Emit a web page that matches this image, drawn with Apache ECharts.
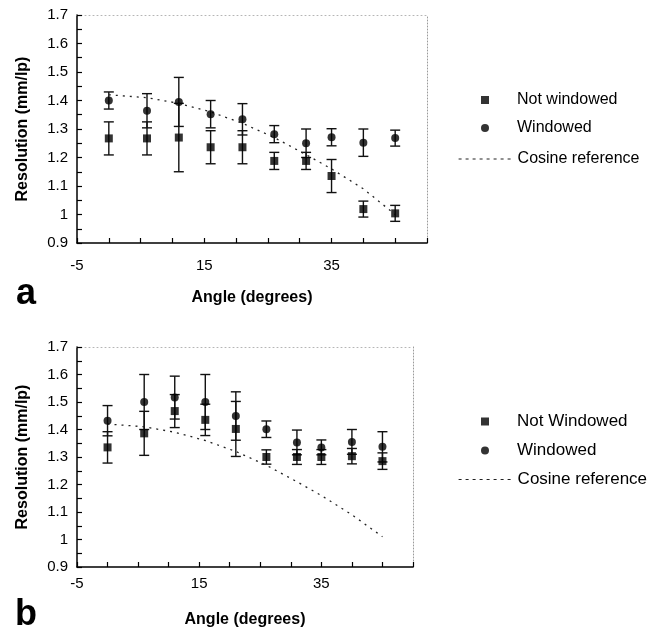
<!DOCTYPE html>
<html>
<head>
<meta charset="utf-8">
<script src="https://cdn.jsdelivr.net/npm/echarts@6/dist/echarts.min.js"></script>
<style>
  html, body { margin: 0; padding: 0; background: #fff; }
  #chart { width: 670px; height: 633px; }
</style>
</head>
<body>
<div id="chart"></div>
<script>
// angles (degrees) shared by both panels
var angles = [0, 6, 11, 16, 21, 26, 31, 35, 40, 45];
var xTickLabels = ['-5', '15', '35'];

// panel a
var notWinA    = [1.267, 1.267, 1.27, 1.236, 1.236, 1.188, 1.188, 1.135, 1.019, 1.004];
var notWinAErr = [0.058, 0.058, 0.12, 0.058, 0.058, 0.03, 0.03, 0.058, 0.028, 0.028];
var winA       = [1.40, 1.364, 1.395, 1.352, 1.334, 1.282, 1.25, 1.271, 1.252, 1.268];
var winAErr    = [0.03, 0.06, 0.086, 0.048, 0.055, 0.03, 0.05, 0.03, 0.048, 0.028];
var cosA       = [1.42, 1.41, 1.39, 1.36, 1.32, 1.27, 1.21, 1.16, 1.09, 1.00];

// panel b
var notWinB    = [1.335, 1.386, 1.467, 1.435, 1.402, 1.30, 1.30, 1.30, 1.303, 1.285];
var notWinBErr = [0.057, 0.08, 0.06, 0.057, 0.1, 0.026, 0.027, 0.027, 0.028, 0.03];
var winB       = [1.432, 1.50, 1.516, 1.50, 1.449, 1.401, 1.353, 1.335, 1.355, 1.337];
var winBErr    = [0.055, 0.1, 0.078, 0.1, 0.088, 0.03, 0.045, 0.027, 0.045, 0.055];
var cosB       = [1.42, 1.41, 1.39, 1.36, 1.32, 1.27, 1.21, 1.16, 1.09, 1.01];

var font = 'Liberation Sans, Arial, sans-serif';
var chart = echarts.init(document.getElementById('chart'));

function pairs(vals) {
  return angles.map(function (a, i) { return [a, vals[i]]; });
}
function triples(vals, errs) {
  return angles.map(function (a, i) { return [a, vals[i], errs[i]]; });
}

function errorBars(gridIdx, vals, errs) {
  return {
    type: 'custom',
    xAxisIndex: gridIdx * 2,
    yAxisIndex: gridIdx * 2,
    silent: true,
    z: 2,
    encode: { x: 0, y: 1 },
    data: triples(vals, errs),
    renderItem: function (params, api) {
      var x = api.value(0), y = api.value(1), e = api.value(2);
      var top = api.coord([x, y + e]);
      var bot = api.coord([x, y - e]);
      var w = 5;
      var st = { stroke: '#111', lineWidth: 1.4 };
      return {
        type: 'group',
        children: [
          { type: 'line', shape: { x1: top[0], y1: top[1], x2: bot[0], y2: bot[1] }, style: st },
          { type: 'line', shape: { x1: top[0] - w, y1: top[1], x2: top[0] + w, y2: top[1] }, style: st },
          { type: 'line', shape: { x1: bot[0] - w, y1: bot[1], x2: bot[0] + w, y2: bot[1] }, style: st }
        ]
      };
    }
  };
}

function xAxisFor(gridIdx, labelMargin, nameGap) {
  return [{
    gridIndex: gridIdx,
    type: 'value',
    min: -5,
    max: 50,
    interval: 5,
    name: 'Angle (degrees)',
    nameLocation: 'middle',
    nameGap: nameGap,
    nameTextStyle: { fontFamily: font, fontSize: 16, fontWeight: 'bold', color: '#000' },
    axisLine: { show: true, onZero: false, lineStyle: { color: '#000', width: 1.5 } },
    axisTick: { show: true, inside: true, length: 5, lineStyle: { color: '#000', width: 1.2 } },
    axisLabel: {
      margin: labelMargin,
      fontFamily: font, fontSize: 15, color: '#000',
      formatter: function (v) { return xTickLabels.indexOf(String(v)) >= 0 ? String(v) : ''; }
    },
    splitLine: { show: false }
  }, {
    // dotted frame on top
    gridIndex: gridIdx,
    type: 'value',
    position: 'top',
    min: -5,
    max: 50,
    axisLine: { show: true, onZero: false, lineStyle: { color: '#b5b5b5', width: 1, type: [1, 3] } },
    axisTick: { show: false },
    axisLabel: { show: false },
    splitLine: { show: false }
  }];
}

function yAxisFor(gridIdx) {
  return [{
    gridIndex: gridIdx,
    type: 'value',
    min: 0.9,
    max: 1.7,
    interval: 0.1,
    name: 'Resolution (mm/lp)',
    nameLocation: 'middle',
    nameGap: 46,
    nameTextStyle: { fontFamily: font, fontSize: 16, fontWeight: 'bold', color: '#000' },
    axisLine: { show: true, onZero: false, lineStyle: { color: '#000', width: 1.5 } },
    axisTick: { show: true, inside: true, length: 5, lineStyle: { color: '#000', width: 1.2 } },
    minorTick: { show: true, splitNumber: 2, length: 5, lineStyle: { color: '#000', width: 1.2 } },
    axisLabel: { margin: 9, fontFamily: font, fontSize: 15, color: '#000' },
    splitLine: { show: false }
  }, {
    // dotted frame on the right
    gridIndex: gridIdx,
    type: 'value',
    position: 'right',
    min: 0.9,
    max: 1.7,
    axisLine: { show: true, onZero: false, lineStyle: { color: '#9a9a9a', width: 1, type: [1, 2] } },
    axisTick: { show: false },
    axisLabel: { show: false },
    splitLine: { show: false }
  }];
}

function panelSeries(gridIdx, notWinName, notWin, notWinErr, win, winErr, cos) {
  var xi = gridIdx * 2, yi = gridIdx * 2;
  return [
    errorBars(gridIdx, notWin, notWinErr),
    errorBars(gridIdx, win, winErr),
    {
      name: 'Cosine reference',
      type: 'line',
      xAxisIndex: xi, yAxisIndex: yi,
      symbol: 'none',
      smooth: false,
      lineStyle: { color: '#222', width: 1.3, type: [2, 5] },
      data: pairs(cos),
      z: 3
    },
    {
      name: notWinName,
      type: 'scatter',
      xAxisIndex: xi, yAxisIndex: yi,
      symbol: 'rect',
      symbolSize: 8,
      itemStyle: { color: '#000' },
      data: pairs(notWin),
      z: 4
    },
    {
      name: 'Windowed',
      type: 'scatter',
      xAxisIndex: xi, yAxisIndex: yi,
      symbol: 'circle',
      symbolSize: 8,
      itemStyle: { color: '#000' },
      data: pairs(win),
      z: 4
    }
  ];
}

function markerLegend(names, top, fontSize) {
  return {
    orient: 'vertical',
    left: 481,
    top: top,
    padding: 0,
    itemWidth: 8,
    itemHeight: 8,
    itemGap: 12,
    selectedMode: false,
    data: names,
    formatter: function (n) { return '{t|' + n + '}'; },
    textStyle: {
      color: '#000',
      rich: { t: { fontFamily: font, fontSize: fontSize, color: '#000', padding: [0, 0, 0, 23] } }
    }
  };
}
function lineLegend(top, fontSize) {
  return {
    orient: 'vertical',
    left: 458,
    top: top,
    padding: 0,
    itemWidth: 54,
    itemHeight: 10,
    selectedMode: false,
    data: ['Cosine reference'],
    itemStyle: { color: 'rgba(0,0,0,0)', borderWidth: 0, opacity: 0 },
    lineStyle: { color: '#222', width: 1.2, type: [3, 4], opacity: 1 },
    textStyle: { fontFamily: font, fontSize: fontSize, color: '#000' }
  };
}

var option = {
  backgroundColor: '#fff',
  animation: false,
  title: [
    { text: 'a', left: 11, top: 271, padding: 5, textStyle: { fontFamily: font, fontSize: 36, fontWeight: 'bold', color: '#000' } },
    { text: 'b', left: 10, top: 592, padding: 5, textStyle: { fontFamily: font, fontSize: 36, fontWeight: 'bold', color: '#000' } }
  ],
  grid: [
    { left: 77, top: 15, width: 350, height: 228, containLabel: false, outerBoundsMode: 'none' },
    { left: 77, top: 347, width: 336, height: 220, containLabel: false, outerBoundsMode: 'none' }
  ],
  legend: [
    markerLegend(['Not windowed', 'Windowed'], 92, 16),
    lineLegend(151, 16),
    markerLegend(['Not Windowed', 'Windowed'], 413, 17),
    lineLegend(471, 17)
  ],
  xAxis: xAxisFor(0, 15, 47).concat(xAxisFor(1, 9, 45)),
  yAxis: yAxisFor(0).concat(yAxisFor(1)),
  series: panelSeries(0, 'Not windowed', notWinA, notWinAErr, winA, winAErr, cosA)
    .concat(panelSeries(1, 'Not Windowed', notWinB, notWinBErr, winB, winBErr, cosB))
};

chart.setOption(option);
</script>
</body>
</html>
